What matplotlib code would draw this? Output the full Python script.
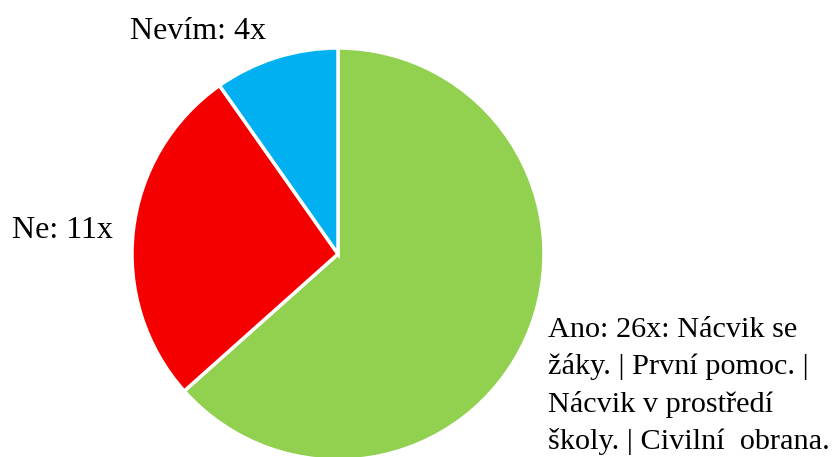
import matplotlib.pyplot as plt

# data
kategorie = ['Ano', 'Ne', 'Nevím']
pocty = [26, 11, 4]
barvy = ['#92D050', '#F50000', '#00B0F0']
popisky_ano = ['Ano: 26x: Nácvik se',
               'žáky. | První pomoc. |',
               'Nácvik v prostředí',
               'školy. | Civilní  obrana.']

plt.rcParams['font.family'] = ['Liberation Serif', 'DejaVu Serif']

fig = plt.figure(figsize=(8.39, 4.57), dpi=100)
ax = fig.add_axes([0, 0, 1, 1])

# kolac - stred a polomer v pixelech
ax.pie(pocty, colors=barvy, startangle=90, counterclock=False,
       center=(338, 457 - 254), radius=206,
       wedgeprops=dict(edgecolor='white', linewidth=2.5), frame=True)
ax.set_xlim(0, 839)
ax.set_ylim(0, 457)
ax.set_aspect('equal')
ax.axis('off')

fs = 23
ax.text(130, 457 - 39, f'{kategorie[2]}: {pocty[2]}x', fontsize=fs, va='baseline', ha='left')
ax.text(12, 457 - 238, f'{kategorie[1]}: {pocty[1]}x', fontsize=fs, va='baseline', ha='left')
for i, radek in enumerate(popisky_ano):
    ax.text(548, 457 - (337 + i * 37.3), radek, fontsize=21.8, va='baseline', ha='left')

fig.savefig('out.png', dpi=100)
